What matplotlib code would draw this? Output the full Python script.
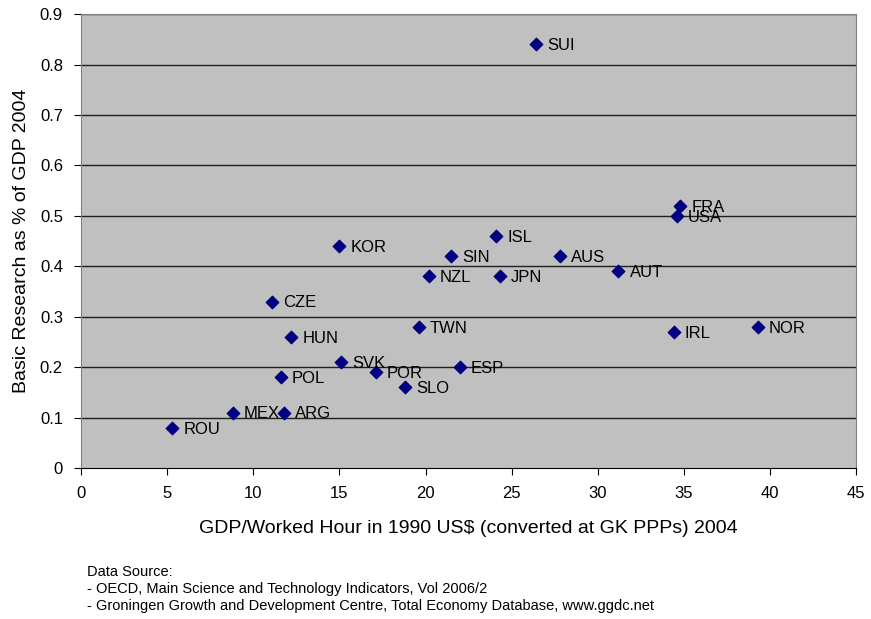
import matplotlib
matplotlib.use('Agg')
from matplotlib import pyplot as plt

plt.rcParams['font.family'] = ['Liberation Sans', 'DejaVu Sans']

countries = ['SUI', 'FRA', 'USA', 'AUT', 'IRL', 'NOR', 'AUS', 'ISL', 'SIN', 'NZL',
             'JPN', 'KOR', 'CZE', 'HUN', 'TWN', 'SVK', 'POR', 'ESP', 'SLO', 'POL',
             'MEX', 'ARG', 'ROU']
gdp_hour = [26.4, 34.8, 34.6, 31.2, 34.4, 39.3, 27.8, 24.1, 21.5, 20.2,
            24.3, 15.0, 11.1, 12.2, 19.6, 15.1, 17.1, 22.0, 18.8, 11.6,
            8.8, 11.8, 5.3]
basic_research = [0.84, 0.52, 0.50, 0.39, 0.27, 0.28, 0.42, 0.46, 0.42, 0.38,
                  0.38, 0.44, 0.33, 0.26, 0.28, 0.21, 0.19, 0.20, 0.16, 0.18,
                  0.11, 0.11, 0.08]

fig = plt.figure(figsize=(8.71, 6.19), dpi=100)
ax = fig.add_axes([0.093, 0.244, 0.89, 0.733])
ax.set_facecolor('#C0C0C0')

# 横向网格线
for yv in [0.1, 0.2, 0.3, 0.4, 0.5, 0.6, 0.7, 0.8, 0.9]:
    ax.axhline(yv, color='#202020', lw=1, zorder=1)

ax.scatter(gdp_hour, basic_research, marker='D', s=40, color='#000080', zorder=3)
for name, x, y in zip(countries, gdp_hour, basic_research):
    ax.annotate(name, (x, y), xytext=(8, -1), textcoords='offset points',
                va='center', ha='left', fontsize=12, color='black', zorder=4)

ax.set_xlim(0, 45)
ax.set_ylim(0, 0.9)
ax.set_xticks(range(0, 46, 5))
ax.set_yticks([0, 0.1, 0.2, 0.3, 0.4, 0.5, 0.6, 0.7, 0.8, 0.9])
ax.set_yticklabels(['0', '0.1', '0.2', '0.3', '0.4', '0.5', '0.6', '0.7', '0.8', '0.9'])
ax.tick_params(labelsize=12, direction='out', length=5, color='black', pad=8)

for side in ['top', 'right', 'left']:
    ax.spines[side].set_color('#808080')
ax.spines['bottom'].set_color('black')

ax.set_xlabel('GDP/Worked Hour in 1990 US$ (converted at GK PPPs) 2004', fontsize=14, labelpad=14)
ax.set_ylabel('Basic Research as % of GDP 2004', fontsize=14, labelpad=7)

fig.text(0.1, 0.088, 'Data Source:\n- OECD, Main Science and Technology Indicators, Vol 2006/2\n'
         '- Groningen Growth and Development Centre, Total Economy Database, www.ggdc.net',
         fontsize=10.5, va='top', linespacing=1.3)

fig.savefig('out.png', dpi=100)
